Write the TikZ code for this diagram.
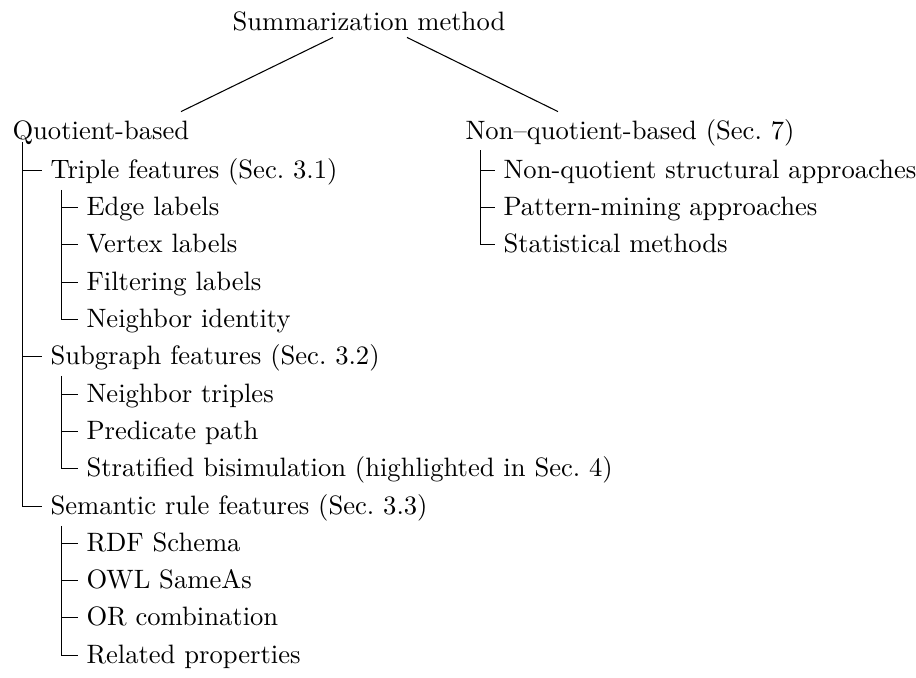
\documentclass[tikz,border=0pt]{standalone}
\usetikzlibrary{calc}
\begin{document}
\begin{tikzpicture}[x=0.376pt,y=-0.376pt,
  lab/.style={anchor=west,inner xsep=3pt,inner ysep=2pt,text height=8.2pt,text depth=2pt},
  conn/.style={line width=0.4pt}]
\useasboundingbox (0,0) rectangle (916,677);
% root and top level
\node[lab,anchor=center] (root) at (369,22) {Summarization method};
\node[lab] (q) at (4,131) {Quotient-based};
\node[lab] (nq) at (457,131) {Non--quotient-based (Sec.~7)};
% quotient-based subtree
\node[lab] (t)   at (42,170.5) {Triple features (Sec.~3.1)};
\node[lab] (t1)  at (78,207.5) {Edge labels};
\node[lab] (t2)  at (78,244.5) {Vertex labels};
\node[lab] (t3)  at (78,282.5) {Filtering labels};
\node[lab] (t4)  at (78,319.5) {Neighbor identity};
\node[lab] (s)   at (42,356.5) {Subgraph features (Sec.~3.2)};
\node[lab] (s1)  at (78,394.5) {Neighbor triples};
\node[lab] (s2)  at (78,431.5) {Predicate path};
\node[lab] (s3)  at (78,468.5) {Stratified bisimulation (highlighted in Sec.~4)};
\node[lab] (r)   at (42,506.5) {Semantic rule features (Sec.~3.3)};
\node[lab] (r1)  at (78,543.5) {RDF Schema};
\node[lab] (r2)  at (78,580.5) {OWL SameAs};
\node[lab] (r3)  at (78,617.5) {OR combination};
\node[lab] (r4)  at (78,655.5) {Related properties};
% non-quotient subtree
\node[lab] (n1)  at (495,170.5) {Non-quotient structural approaches};
\node[lab] (n2)  at (495,207.5) {Pattern-mining approaches};
\node[lab] (n3)  at (495,244.5) {Statistical methods};
% root edges
\draw[conn] ($(root.south)+(-36,-4)$) -- ($(q.north west)+(177,0)$);
\draw[conn] ($(root.south)+(38,-4)$) -- ($(nq.north west)+(101,0)$);
% folder edges
\coordinate (vq) at ($(q.south west)+(18.5,-8)$);
\coordinate (vt) at ($(t.south west)+(19.5,0)$);
\coordinate (vs) at ($(s.south west)+(19.5,0)$);
\coordinate (vr) at ($(r.south west)+(19.5,0)$);
\coordinate (vn) at ($(nq.south west)+(23.5,0)$);
\draw[conn] (vq) |- (r.west);
\foreach \c in {t,s} \draw[conn] (vq |- \c.west) -- (\c.west);
\draw[conn] (vt) |- (t4.west);
\foreach \c in {t1,t2,t3} \draw[conn] (vt |- \c.west) -- (\c.west);
\draw[conn] (vs) |- (s3.west);
\foreach \c in {s1,s2} \draw[conn] (vs |- \c.west) -- (\c.west);
\draw[conn] (vr) |- (r4.west);
\foreach \c in {r1,r2,r3} \draw[conn] (vr |- \c.west) -- (\c.west);
\draw[conn] (vn) |- (n3.west);
\foreach \c in {n1,n2} \draw[conn] (vn |- \c.west) -- (\c.west);
\end{tikzpicture}
\end{document}
